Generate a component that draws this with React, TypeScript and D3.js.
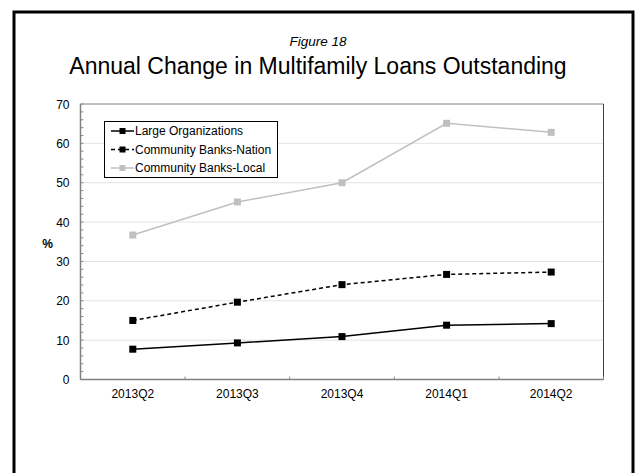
import React from "react";
import * as d3 from "d3";

const categories = ["2013Q2", "2013Q3", "2013Q4", "2014Q1", "2014Q2"];
const largeOrgs = [7.7, 9.3, 10.9, 13.8, 14.2];
const cbNation = [15.0, 19.65, 24.1, 26.7, 27.3];
const cbLocal = [36.7, 45.1, 50.0, 65.1, 62.8];
const yTicks = [0, 10, 20, 30, 40, 50, 60, 70];
const seriesNames = ["Large Organizations", "Community Banks-Nation", "Community Banks-Local"];

const W = 636, H = 473;
const plot = { left: 80.5, right: 603.5, top: 104, bottom: 379.5 };
const FONT = "'Liberation Sans', Arial, sans-serif";

export default function App() {
  const x = d3.scaleBand<string>().domain(categories).range([plot.left, plot.right]);
  const y = d3.scaleLinear().domain([0, 70]).range([plot.bottom, plot.top]);
  const cx = (c: string) => (x(c) as number) + x.bandwidth() / 2;

  const series = [
    { name: seriesNames[0], values: largeOrgs, color: "#000", dash: "", marker: "#000" },
    { name: seriesNames[1], values: cbNation, color: "#000", dash: "4,3", marker: "#000" },
    { name: seriesNames[2], values: cbLocal, color: "#c0c0c0", dash: "", marker: "#c0c0c0" },
  ];

  const line = d3
    .line<number>()
    .x((_, i) => cx(categories[i]))
    .y((d) => y(d));

  const minor = d3.range(0, 70.01, 2);
  const boundaries = categories.map((c) => x(c) as number).concat([plot.right]);

  return (
    <div style={{ margin: 0 }}>
      <svg width={W} height={H} style={{ position: "absolute", left: 0, top: 0, background: "#fff" }}>
        <rect x={0} y={0} width={W} height={H} fill="#fff" />
        {/* outer frame */}
        <rect x={14} y={12} width={619} height={480} fill="none" stroke="#000" strokeWidth={3} />
        <text x={318} y={46} textAnchor="middle" fontFamily={FONT} fontSize={13.5} fontStyle="italic">
          Figure 18
        </text>
        <text x={318} y={74} textAnchor="middle" fontFamily={FONT} fontSize={23}>
          Annual Change in Multifamily Loans Outstanding
        </text>

        {/* gridlines */}
        {yTicks.slice(1, -1).map((t) => (
          <line key={"g" + t} x1={plot.left} x2={plot.right} y1={y(t)} y2={y(t)} stroke="#e4e4e4" strokeWidth={1} />
        ))}
        {/* plot border top/right */}
        <line x1={plot.left} x2={plot.right} y1={plot.top} y2={plot.top} stroke="#808080" strokeWidth={1} />
        <line x1={plot.right} x2={plot.right} y1={plot.top} y2={plot.bottom} stroke="#404040" strokeWidth={1} />

        {/* minor ticks */}
        {minor.map((t) => (
          <line key={"m" + t} x1={plot.left} x2={plot.left + 3} y1={y(t)} y2={y(t)} stroke="#909090" strokeWidth={1} />
        ))}
        {/* x ticks */}
        {boundaries.map((b, i) => (
          <line key={"xt" + i} x1={b} x2={b} y1={plot.bottom} y2={plot.bottom - 3} stroke="#909090" strokeWidth={1} />
        ))}
        {/* axes */}
        <line x1={plot.left} x2={plot.left} y1={plot.top} y2={plot.bottom} stroke="#808080" strokeWidth={1.5} />
        <line x1={plot.left} x2={plot.right} y1={plot.bottom} y2={plot.bottom} stroke="#808080" strokeWidth={1.5} />

        {/* y labels */}
        {yTicks.map((t) => (
          <text key={"yl" + t} x={69.5} y={y(t) + 4.5} textAnchor="end" fontFamily={FONT} fontSize={12} fill="#000">
            {t}
          </text>
        ))}
        <text x={47.5} y={248} textAnchor="middle" fontFamily={FONT} fontSize={12} fontWeight="bold">
          %
        </text>
        {/* x labels */}
        {categories.map((c) => (
          <text key={"xl" + c} x={cx(c)} y={397.5} textAnchor="middle" fontFamily={FONT} fontSize={12}>
            {c}
          </text>
        ))}

        {/* series */}
        {series.map((s) => (
          <g key={s.name}>
            <path d={line(s.values) || ""} fill="none" stroke={s.color} strokeWidth={1.5} strokeDasharray={s.dash} />
            {s.values.map((v, i) => (
              <rect key={i} x={cx(categories[i]) - 3.5} y={y(v) - 3.5} width={7} height={7} fill={s.marker} />
            ))}
          </g>
        ))}

        {/* legend */}
        <rect x={104.5} y={121.5} width={173} height={56} fill="#fff" stroke="#000" strokeWidth={1} />
        {series.map((s, i) => {
          const ly = 131 + i * 18.5;
          return (
            <g key={"lg" + s.name}>
              <line x1={111} x2={134} y1={ly} y2={ly} stroke={s.color} strokeWidth={1.5} strokeDasharray={s.dash} />
              <rect x={119.5} y={ly - 3} width={6} height={6} fill={s.marker} />
              <text x={135} y={ly + 4} fontFamily={FONT} fontSize={12}>
                {s.name}
              </text>
            </g>
          );
        })}
      </svg>
    </div>
  );
}
